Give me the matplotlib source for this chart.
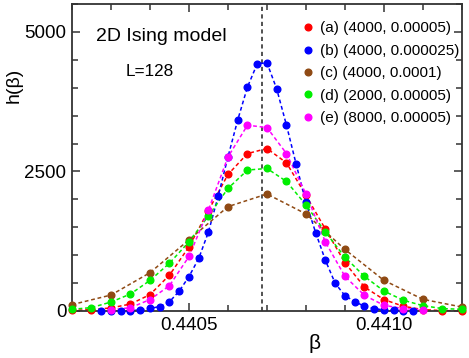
import numpy as np
import matplotlib
matplotlib.use("Agg")
import matplotlib.pyplot as plt
from matplotlib.ticker import MultipleLocator

plt.rcParams['font.family'] = ['Liberation Sans', 'DejaVu Sans']

# beta grids (step = second run parameter)
beta_a = np.round(np.arange(0, 21) * 0.00005 + 0.4402, 6)
beta_b = np.round(np.arange(0, 33) * 0.000025 + 0.440275, 7)
beta_c = np.round(np.arange(0, 11) * 0.0001 + 0.4402, 5)
beta_d = np.round(np.arange(0, 21) * 0.00005 + 0.4402, 6)
beta_e = np.round(np.arange(0, 17) * 0.00005 + 0.4403, 6)

h_a = [10, 25, 55, 125, 293, 643, 1150, 1800, 2446, 2821, 2911,
       2655, 2070, 1464, 864, 429, 204, 84, 25, 7, 2]
h_b = [0, 0, 2, 5, 20, 45, 80, 165, 357, 617, 941, 1418, 2060, 2762,
       3423, 4013, 4429, 4446, 3977, 3329, 2625, 1946, 1400, 905, 495,
       275, 168, 84, 43, 18, 10, 5, 0]
h_c = [114, 286, 686, 1275, 1870, 2096, 1739, 1102, 548, 209, 71]
h_d = [30, 61, 161, 304, 548, 857, 1239, 1704, 2196, 2525, 2554,
       2321, 1900, 1411, 964, 620, 357, 191, 96, 43, 30]
h_e = [20, 60, 204, 454, 977, 1811, 2760, 3329, 3286, 2821, 2096,
       1232, 620, 280, 102, 43, 25]

labels = ["(a) (4000, 0.00005)", "(b) (4000, 0.000025)", "(c) (4000, 0.0001)",
          "(d) (2000, 0.00005)", "(e) (8000, 0.00005)"]
colors = ["#ff0000", "#0000ff", "#8f4a14", "#00ee00", "#ff00ff"]
beta_c_crit = 0.4406868

fig = plt.figure(figsize=(4.69, 3.58), dpi=100)
ax = fig.add_axes([0.1535, 0.1313, 0.985 - 0.1535, 0.9888 - 0.1313])

series = [(beta_a, h_a), (beta_b, h_b), (beta_c, h_c), (beta_d, h_d), (beta_e, h_e)]
for (x, y), col, lab in zip(series, colors, labels):
    ax.plot(x, y, ls=(0, (2.5, 1.8)), lw=1.1, color=col, zorder=2)
    ax.plot(x, y, ls='none', marker='o', ms=4.8, color=col, label=lab, zorder=3,
            clip_on=False)

ax.axvline(beta_c_crit, color='#333333', ls=(0, (2.5, 2)), lw=1.2, zorder=1)

ax.set_xlim(0.4402, 0.4412)
ax.set_ylim(0, 5500)
ax.xaxis.set_minor_locator(MultipleLocator(0.0001))
ax.yaxis.set_minor_locator(MultipleLocator(500))
ax.set_xticks([0.4405, 0.4410])
ax.set_xticklabels(["0.4405", "0.4410"])
ax.set_yticks([0, 2500, 5000])
ax.set_yticklabels(["0", "2500", "5000"])
ax.tick_params(which='both', direction='in', top=True, right=True, labelsize=13.5,
               width=1.1, color='#333333')
ax.tick_params(which='major', length=6, pad=4)
ax.tick_params(which='minor', length=4.5)
for s in ax.spines.values():
    s.set_linewidth(1.3)
    s.set_color('#333333')

ax.text(0.623, -0.105, "β", transform=ax.transAxes, ha='center', va='center', fontsize=15)
ax.text(-0.148, 0.735, "h(β)", transform=ax.transAxes, ha='center', va='center',
        rotation=90, fontsize=14)
ax.text(0.23, 0.895, "2D Ising model", transform=ax.transAxes, ha='center',
        va='center', fontsize=14)
ax.text(0.2, 0.78, "L=128", transform=ax.transAxes, ha='center', va='center',
        fontsize=12.3)

ax.legend(loc='upper left', bbox_to_anchor=(0.578, 0.963), frameon=False,
          fontsize=11, handlelength=0.6, handletextpad=0.5, labelspacing=0.55,
          borderaxespad=0, markerscale=1.0)

fig.savefig("out.png", dpi=100)
